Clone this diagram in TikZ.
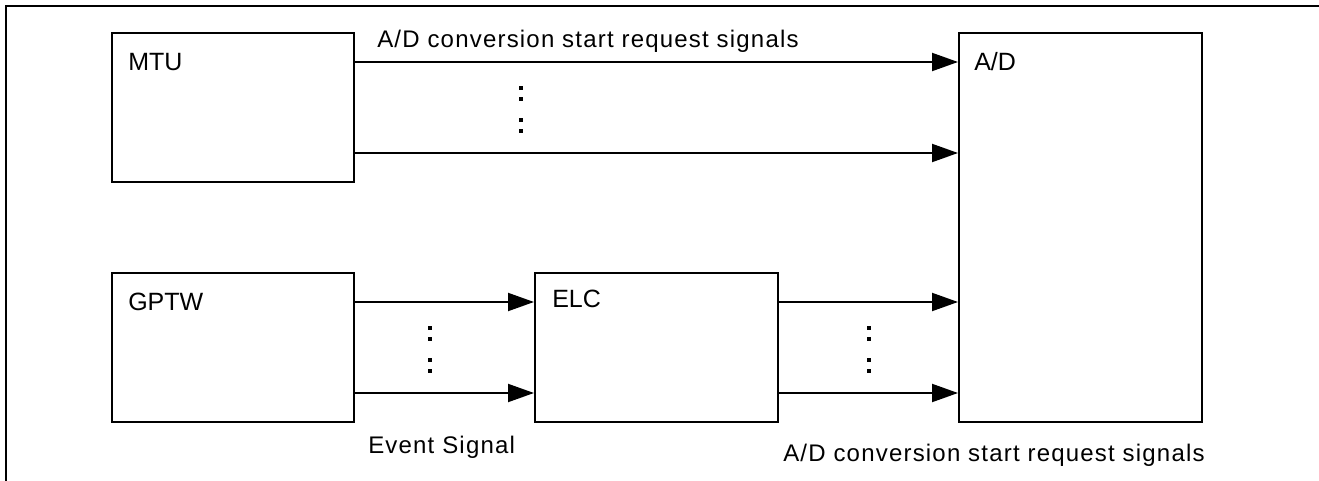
\documentclass[tikz,border=0pt]{standalone}
\usepackage{fontspec}
\setmainfont{Liberation Sans}
\newfontfamily\sigfont[LetterSpace=5]{Liberation Sans}
\usetikzlibrary{arrows.meta,fit}
\begin{document}
\begin{tikzpicture}[x=0.75pt,y=-0.75pt,
  box/.style={draw,line width=1.5pt,inner sep=0pt},
  boxlbl/.style={anchor=base west,inner sep=0pt,font=\fontsize{18.75pt}{20pt}\selectfont},
  siglbl/.style={anchor=base west,inner sep=0pt,font=\sigfont\fontsize{18pt}{20pt}\selectfont},
  sig/.style={line width=1.5pt,-{Triangle[length=19.5pt,width=13.5pt]}},
  frameline/.style={line width=1.5pt},
  dotmark/.style={fill=black,inner sep=0pt,minimum size=2.4pt,shape=rectangle}]
\useasboundingbox (0,0) rectangle (1319,481);
\draw[frameline] (6,481) -- (6,6) -- (1319,6);
% boxes
\node[box,fit={(112,33) (354,182)}] (mtu) {};
\node[box,fit={(959,33) (1202,422)}] (ad) {};
\node[box,fit={(112,273) (354,422)}] (gptw) {};
\node[box,fit={(535,273) (778,422)}] (elc) {};
% box labels
\node[boxlbl] (mtulbl) at (128,71) {MTU};
\node[boxlbl] (adlbl) at (974,71) {A/D};
\node[boxlbl] (gptwlbl) at (128,310) {GPTW};
\node[boxlbl] (elclbl) at (552,307) {ELC};
% connectors
\draw[sig] (mtu.east |- 0,62) -- (ad.west |- 0,62);
\draw[sig] (mtu.east |- 0,153) -- (ad.west |- 0,153);
\draw[sig] (gptw.east |- 0,302) -- (elc.west |- 0,302);
\draw[sig] (gptw.east |- 0,393) -- (elc.west |- 0,393);
\draw[sig] (elc.east |- 0,302) -- (ad.west |- 0,302);
\draw[sig] (elc.east |- 0,393) -- (ad.west |- 0,393);
% dots
\foreach \yy [count=\i] in {88,99,120,131} {\node[dotmark] (dA\i) at (521,\yy) {};}
\foreach \yy [count=\i] in {328,339,360,371} {\node[dotmark] (dB\i) at (430,\yy) {};}
\foreach \yy [count=\i] in {328,339,360,371} {\node[dotmark] (dC\i) at (869,\yy) {};}
% signal labels
\node[siglbl] (toplbl) at (377,48) {A/D conversion start request signals};
\node[siglbl] (evlbl) at (368,453) {Event Signal};
\node[siglbl] (botlbl) at (783,461) {A/D conversion start request signals};
\end{tikzpicture}
\end{document}
